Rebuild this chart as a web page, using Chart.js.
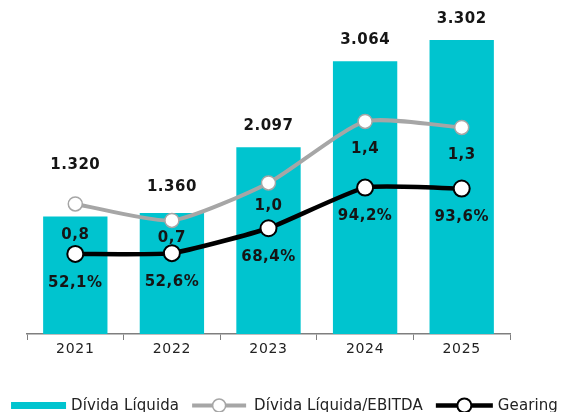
<!DOCTYPE html>
<html>
<head>
<meta charset="utf-8">
<script src="https://cdn.jsdelivr.net/npm/chart.js@4.4.1/dist/chart.umd.min.js"></script>
<style>
  html, body { margin: 0; padding: 0; overflow: hidden; background: #fff; }
  #wrap { width: 563px; height: 412px; }
</style>
</head>
<body>
<div id="wrap"><canvas id="chart" width="563" height="412"></canvas></div>
<script>
// anos e séries
const YEARS = ["2021", "2022", "2023", "2024", "2025"];
const DIVIDA_LIQUIDA = [1320, 1360, 2097, 3064, 3302];
const DIVIDA_EBITDA = [0.83, 0.72, 0.97, 1.38, 1.34];   // rótulos mostram 1 casa decimal
const GEARING = [52.1, 52.6, 68.4, 94.2, 93.6];
const SERIES = ["Dívida Líquida", "Dívida Líquida/EBITDA", "Gearing"];

const CYAN = "#00C4CF", GREY = "#A6A6A6", BLACK = "#000000", AXIS = "#7f7f7f";
const FONT = "'DejaVu Sans', sans-serif";

const fmtInt = (v) => String(v).replace(/\B(?=(\d{3})+(?!\d))/g, ".");
const fmtDec = (v) => v.toFixed(1).replace(".", ",");
const fmtPct = (v) => fmtDec(v) + "%";

// deslocamento vertical de cada rótulo em relação ao ponto/topo da barra
const LABELS = [
  { fmt: fmtInt, dy: [-51, -26, -21, -21, -21] },
  { fmt: fmtDec, dy: [31, 18, 23, 28, 28] },
  { fmt: fmtPct, dy: [29, 29, 29, 29, 29] },
];

// espaçamento de letras só para os rótulos do eixo x
const tickSpacing = {
  id: "tickSpacing",
  beforeDraw(chart) { chart.ctx.letterSpacing = "0.7px"; },
  afterDraw(chart) { chart.ctx.letterSpacing = "0px"; },
};

const valueLabels = {
  id: "valueLabels",
  afterDatasetsDraw(chart) {
    const ctx = chart.ctx;
    ctx.save();
    ctx.font = `bold 15px ${FONT}`;
    ctx.letterSpacing = "0.5px";
    ctx.fillStyle = "#151515";
    ctx.textAlign = "center";
    ctx.textBaseline = "middle";
    chart.data.datasets.forEach((ds, i) => {
      const lab = LABELS[i];
      chart.getDatasetMeta(i).data.forEach((el, j) => {
        ctx.fillText(lab.fmt(ds.data[j]), el.x, el.y + lab.dy[j]);
      });
    });
    ctx.restore();
  },
};

function lineSwatch(ctx, x, y, w, color, lw, r, bw) {
  ctx.strokeStyle = color; ctx.lineWidth = lw;
  ctx.beginPath(); ctx.moveTo(x, y); ctx.lineTo(x + w, y); ctx.stroke();
  ctx.beginPath(); ctx.arc(x + w / 2, y, r, 0, Math.PI * 2);
  ctx.fillStyle = "#fff"; ctx.fill();
  ctx.lineWidth = bw; ctx.stroke();
}

const LEGEND = [
  { w: 55, gap: 5, draw: (ctx, x, y) => { ctx.fillStyle = CYAN; ctx.fillRect(x, y - 3.5, 55, 7); } },
  { w: 54, gap: 8, draw: (ctx, x, y) => lineSwatch(ctx, x, y, 54, GREY, 4, 6.5, 1.5) },
  { w: 57, gap: 5, draw: (ctx, x, y) => lineSwatch(ctx, x, y, 57, BLACK, 4.5, 7, 2) },
];

const bottomLegend = {
  id: "bottomLegend",
  afterDraw(chart) {
    const ctx = chart.ctx;
    ctx.save();
    ctx.font = `15px ${FONT}`;
    ctx.letterSpacing = "0.1px";
    const widths = SERIES.map((s) => ctx.measureText(s).width);
    const spacing = 13;
    let total = spacing * (SERIES.length - 1);
    LEGEND.forEach((it, i) => { total += it.w + it.gap + widths[i]; });
    let x = 284.5 - total / 2;
    const y = 405.5;
    LEGEND.forEach((it, i) => {
      it.draw(ctx, x, y);
      x += it.w + it.gap;
      ctx.fillStyle = "#222";
      ctx.textAlign = "left";
      ctx.textBaseline = "alphabetic";
      ctx.fillText(SERIES[i], x, 410);
      x += widths[i] + spacing;
    });
    ctx.restore();
  },
};

new Chart(document.getElementById("chart"), {
  type: "bar",
  data: {
    labels: YEARS,
    datasets: [
      { label: SERIES[0], data: DIVIDA_LIQUIDA, backgroundColor: CYAN, yAxisID: "y",
        barPercentage: 0.666, categoryPercentage: 1.0, order: 3 },
      { label: SERIES[1], type: "line", data: DIVIDA_EBITDA, yAxisID: "y1", order: 2,
        borderColor: GREY, borderWidth: 4, tension: 0.2,
        pointRadius: 7, pointBorderWidth: 1.5, pointBackgroundColor: "#fff", pointBorderColor: GREY },
      { label: SERIES[2], type: "line", data: GEARING, yAxisID: "y2", order: 1,
        borderColor: BLACK, borderWidth: 4.5, tension: 0.15,
        pointRadius: 8, pointBorderWidth: 2, pointBackgroundColor: "#fff", pointBorderColor: BLACK },
    ],
  },
  options: {
    responsive: false, animation: false,
    layout: { padding: { top: 14, bottom: 0, left: 0, right: 0 } },
    plugins: { legend: { display: false }, tooltip: { enabled: false } },
    scales: {
      x: {
        grid: { display: true, drawOnChartArea: false, drawTicks: true, tickLength: 6, color: AXIS, offset: true },
        border: { display: true, color: AXIS, width: 1.5 },
        ticks: { font: { family: FONT, size: 14 }, color: "#222", padding: 1 },
        afterFit: (axis) => { axis.height = 78; },
      },
      y: {
        position: "left", min: 0, max: 3594,
        grid: { display: false }, border: { display: false }, ticks: { display: false },
        afterFit: (axis) => { axis.width = 27; },
      },
      y1: {
        position: "right", min: -0.037, max: 2.096,
        grid: { display: false }, border: { display: false }, ticks: { display: false },
        afterFit: (axis) => { axis.width = 53; },
      },
      y2: { display: false, min: 1.27, max: 204.4 },
    },
  },
  plugins: [tickSpacing, valueLabels, bottomLegend],
});
</script>
</body>
</html>
